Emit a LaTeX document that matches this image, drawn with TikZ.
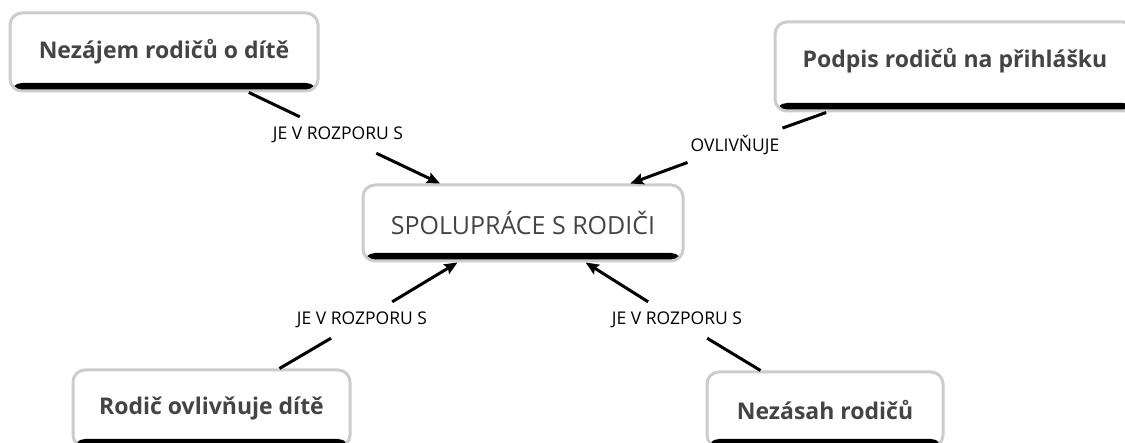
\documentclass[tikz,border=0pt]{standalone}
\usepackage{fontspec}
\setmainfont{Open Sans}
\usetikzlibrary{arrows.meta}

\definecolor{conceptborder}{HTML}{CCCCCC}
\definecolor{concepttext}{HTML}{444444}

\tikzstyle{concept}=[shape=rectangle,rounded corners=12pt,draw=conceptborder,line width=3pt,fill=white,
    text=concepttext,inner sep=0pt,
    path picture={\fill[black] (path picture bounding box.south west) rectangle ([yshift=8pt]path picture bounding box.south east);}]
\tikzstyle{relation}=[shape=rectangle,inner xsep=3pt,inner ysep=0pt,minimum height=36pt,text=black,
    font=\fontsize{17.5}{20}\selectfont]
\tikzstyle{link}=[draw=black,line width=3pt]

\begin{document}
\begin{tikzpicture}[x=1pt,y=-1pt]
        \useasboundingbox (0,0) rectangle (1125,443);
        % concepts
        \node[concept,minimum width=320pt,minimum height=76pt,font=\fontsize{25}{29}\selectfont] (sp) at (523,223) {SPOLUPRÁCE S RODIČI};
        \node[concept,minimum width=308pt,minimum height=78pt,font=\fontsize{23}{27}\selectfont\bfseries] (nezajem) at (164,52) {Nezájem rodičů o dítě};
        \node[concept,minimum width=360pt,minimum height=89pt,text depth=18pt,font=\fontsize{23}{27}\selectfont\bfseries] (podpis) at (955,66.5) {Podpis rodičů na přihlášku};
        \node[concept,minimum width=277pt,minimum height=77pt,font=\fontsize{23}{27}\selectfont\bfseries] (rodic) at (211.5,408.5) {Rodič ovlivňuje dítě};
        \node[concept,minimum width=236pt,minimum height=75pt,font=\fontsize{23}{27}\selectfont\bfseries] (nezasah) at (825,409.5) {Nezásah rodičů};
        % relations
        \node[relation] (r1) at (338,135) {JE V ROZPORU S}
            edge [link] (nezajem)
            edge [link,-{Stealth[length=13pt,width=11pt,inset=2pt]}] (sp);
        \node[relation] (r2) at (735,145) {OVLIVŇUJE}
            edge [link] (podpis)
            edge [link,-{Stealth[length=13pt,width=11pt,inset=2pt]}] (sp);
        \node[relation] (r3) at (362,320) {JE V ROZPORU S}
            edge [link] (rodic)
            edge [link,-{Stealth[length=13pt,width=11pt,inset=2pt]}] (sp);
        \node[relation] (r4) at (677,320) {JE V ROZPORU S}
            edge [link] (nezasah)
            edge [link,-{Stealth[length=13pt,width=11pt,inset=2pt]}] (sp);
    \end{tikzpicture}
\end{document}
